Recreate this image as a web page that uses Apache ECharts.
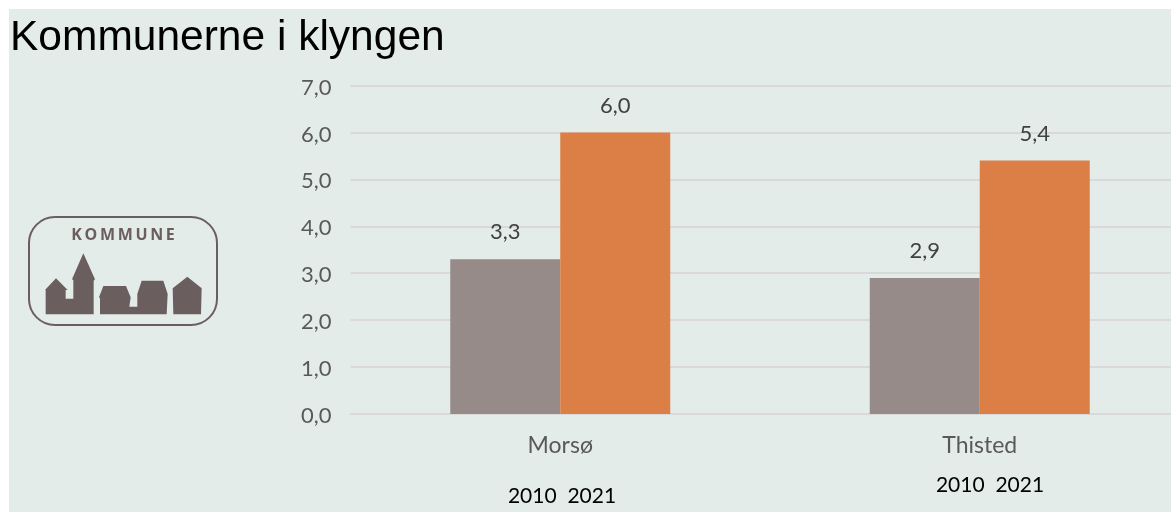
<!DOCTYPE html>
<html><head><meta charset="utf-8">
<style>html,body{margin:0;padding:0;background:#fff}#c{width:1171px;height:512px}</style>
<script src="https://cdn.jsdelivr.net/npm/echarts@6/dist/echarts.min.js"></script>
</head><body><div id="c"></div>
<script>
const categories = ["Morsø", "Thisted"];
const values2010 = [3.3, 2.9];
const values2021 = [6.0, 5.4];
const titleText = "Kommunerne i klyngen";
const yearsText = "2010  2021";
const logoText = "KOMMUNE";
const fmt = v => v.toFixed(1).replace(".", ",");
const logoColor = "#6b5e5e";
const labelFont = "Lato, 'Open Sans', sans-serif";
// logo outlines traced in a 3x crop whose origin is (0,190)
const logoShapes = [
  [[135,300],[168,265],[203,300],[197,300],[197,326],[220,326],[220,270],[216,268],[250,190],[285,268],[281,272],[281,373],[137,373],[137,300]],
  [[297,322],[310,288],[378,288],[392,322],[388,350],[412,350],[412,312],[425,272],[490,272],[503,312],[500,373],[300,373],[300,325]],
  [[518,295],[562,260],[605,295],[603,373],[520,373]]
].map(s => s.map(p => [p[0]/3, p[1]/3 + 190]));

const chart = echarts.init(document.getElementById("c"), null, {renderer:"canvas"});
chart.setOption({
  animation:false,
  backgroundColor:"#ffffff",
  grid:{left:350.5, top:85.5, width:839, height:328.5, containLabel:false, outerBoundsMode:"none"},
  xAxis:{type:"category", data:categories,
    axisLine:{show:true, lineStyle:{color:"#d9d9d9", width:2}}, axisTick:{show:false},
    axisLabel:{color:"#595959", fontFamily:labelFont, fontSize:23, margin:20}},
  yAxis:{type:"value", min:0, max:7, interval:1,
    axisLine:{show:false}, axisTick:{show:false},
    splitLine:{show:true, lineStyle:{color:"#d9d9d9", width:2}},
    axisLabel:{color:"#595959", fontFamily:labelFont, fontSize:22, margin:19, verticalAlign:"top", lineHeight:4, formatter:fmt}},
  series:[
    {name:"2010", type:"bar", data:values2010, barWidth:110, barGap:"0%", itemStyle:{color:"#968b89"},
     label:{show:true, position:"top", distance:16, color:"#404040", fontFamily:labelFont, fontSize:22, formatter:p=>fmt(p.value)}},
    {name:"2021", type:"bar", data:values2021, barWidth:110, itemStyle:{color:"#dc7f46"},
     label:{show:true, position:"top", distance:16, color:"#404040", fontFamily:labelFont, fontSize:22, formatter:p=>fmt(p.value)}}
  ],
  graphic:[
    {type:"rect", z:-10, shape:{x:9,y:9,width:1162,height:503}, style:{fill:"#e4ecea"}},
    {type:"text", x:10, y:38, style:{text:titleText, fill:"#000", font:"42.5px 'Liberation Sans', Arial, sans-serif", textAlign:"left", textVerticalAlign:"middle"}},
    {type:"text", x:562, y:496, style:{text:yearsText, fill:"#000", font:"21px "+labelFont, textAlign:"center", textVerticalAlign:"middle"}},
    {type:"text", x:990, y:485, style:{text:yearsText, fill:"#000", font:"21px "+labelFont, textAlign:"center", textVerticalAlign:"middle"}},
    {type:"rect", shape:{x:29,y:217,width:188,height:108,r:26}, style:{fill:"none", stroke:logoColor, lineWidth:2}},
    {type:"text", x:123, y:235, style:{text:logoText.split("").join("\u2009"), fill:logoColor, font:"bold 16px 'Open Sans', sans-serif", textAlign:"center", textVerticalAlign:"middle"}},
    ...logoShapes.map(points => ({type:"polygon", shape:{points}, style:{fill:logoColor}}))
  ]
});
</script></body></html>
